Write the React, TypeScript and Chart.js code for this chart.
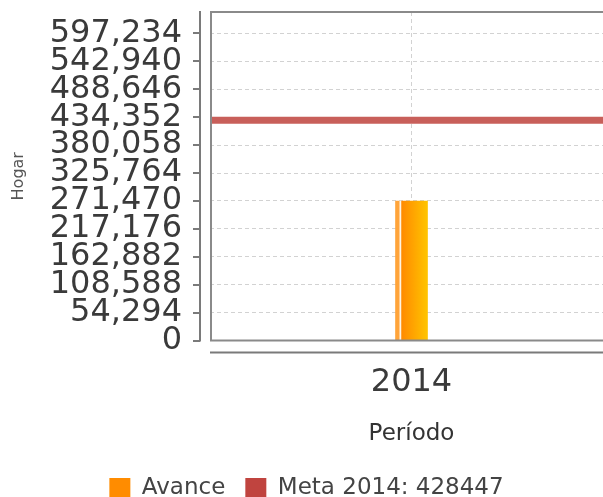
import { useEffect, useRef } from 'react';
import { Chart, registerables } from 'chart.js';

Chart.register(...registerables);

const categories = ['2014'];
const avanceValues = [271200];
const avanceLabel = 'Avance';
const metaLabel = 'Meta 2014: 428447';
const metaValue = 428447;
const yTickValues = [0, 54294, 108588, 162882, 217176, 271470, 325764, 380058, 434352, 488646, 542940, 597234];
const yMax = 639000;

const W = 621;
const H = 510;
const FONT = 'DejaVu Sans';

export default function App() {
  const ref = useRef<HTMLCanvasElement>(null);

  useEffect(() => {
    const canvas = ref.current;
    if (!canvas) return;

    const framePlugin = {
      id: 'frameAxes',
      afterDraw(chart: any) {
        const { ctx, chartArea } = chart;
        const ys = chart.scales.y;
        ctx.save();
        // plot frame
        ctx.strokeStyle = '#8a8a8a';
        ctx.lineWidth = 2;
        ctx.strokeRect(chartArea.left + 1, chartArea.top, chartArea.right - chartArea.left, chartArea.bottom - chartArea.top);
        // detached y axis line
        ctx.strokeStyle = '#7a7a7a';
        ctx.beginPath();
        ctx.moveTo(chartArea.left - 10, chartArea.top - 1);
        ctx.lineTo(chartArea.left - 10, chartArea.bottom + 1);
        ctx.stroke();
        ys.ticks.forEach((t: any) => {
          const y = Math.round(ys.getPixelForValue(t.value));
          ctx.beginPath();
          ctx.moveTo(chartArea.left - 17, y);
          ctx.lineTo(chartArea.left - 10, y);
          ctx.stroke();
        });
        // detached x axis line
        ctx.beginPath();
        ctx.moveTo(chartArea.left, chartArea.bottom + 12);
        ctx.lineTo(chart.width, chartArea.bottom + 12);
        ctx.stroke();
        ctx.restore();
      },
    };

    const chart = new Chart(canvas, {
      type: 'bar',
      data: {
        labels: categories,
        datasets: [
          {
            type: 'bar',
            label: avanceLabel,
            data: avanceValues,
            barThickness: 32,
            grouped: false,
            backgroundColor: (c: any) => {
              const ch = c.chart;
              const xs = ch.scales && ch.scales.x;
              if (!xs || !ch.chartArea) return '#ff9900';
              const cx = xs.getPixelForValue(c.dataIndex);
              const g = ch.ctx.createLinearGradient(cx - 16, 0, cx + 16, 0);
              g.addColorStop(0, '#ffa43a');
              g.addColorStop(0.12, '#ffa43a');
              g.addColorStop(0.13, '#fff4e4');
              g.addColorStop(0.18, '#fff4e4');
              g.addColorStop(0.19, '#ff8a00');
              g.addColorStop(1, '#ffc400');
              return g;
            },
            borderWidth: 0,
          } as any,
          {
            type: 'line',
            label: metaLabel,
            xAxisID: 'x2',
            data: [
              { x: 0, y: metaValue },
              { x: 1, y: metaValue },
            ],
            borderColor: '#c85f5a',
            borderWidth: 7,
            pointRadius: 0,
            fill: false,
          } as any,
        ],
      },
      options: {
        responsive: false,
        animation: false,
        devicePixelRatio: 1,
        layout: { padding: { top: 12, right: 8, left: 0, bottom: 0 } },
        plugins: {
          tooltip: { enabled: false },
          legend: {
            position: 'bottom',
            labels: {
              boxWidth: 21,
              boxHeight: 21,
              padding: 20,
              color: '#444',
              font: { family: FONT, size: 23 },
              generateLabels: () => [
                { text: avanceLabel, fillStyle: '#ff8c00', strokeStyle: '#ff8c00', lineWidth: 0, fontColor: '#444', hidden: false, datasetIndex: 0 },
                { text: metaLabel, fillStyle: '#c0443f', strokeStyle: '#c0443f', lineWidth: 0, fontColor: '#444', hidden: false, datasetIndex: 1 },
              ] as any,
            },
          },
        },
        scales: {
          x: {
            type: 'category',
            offset: true,
            grid: { offset: false, color: '#d2d2d2', drawTicks: false, lineWidth: 1 },
            border: { display: false, dash: [4, 3] },
            ticks: { color: '#3a3a3a', font: { family: FONT, size: 32 }, padding: 23, maxRotation: 0 },
            title: { display: true, text: 'Período', color: '#333', font: { family: FONT, size: 23 }, padding: { top: 0, bottom: 9 } },
            afterFit: (s: any) => {
              s.height = 116.5;
              s.paddingLeft = 0;
              s.paddingRight = 0;
            },
          } as any,
          x2: {
            type: 'linear',
            display: false,
            offset: false,
            min: 0,
            max: 1,
          } as any,
          y: {
            type: 'linear',
            min: 0,
            max: yMax,
            afterBuildTicks: (s: any) => {
              s.ticks = yTickValues.map((v) => ({ value: v }));
            },
            grid: { color: '#d2d2d2', drawTicks: false, lineWidth: 1 },
            border: { display: false, dash: [4, 3] },
            ticks: {
              autoSkip: false,
              color: '#3a3a3a',
              font: { family: FONT, size: 32 },
              padding: 28,
              callback: (v: any) => Number(v).toLocaleString('en-US'),
            },
            title: { display: true, text: 'Hogar', color: '#555', font: { family: FONT, size: 16 }, padding: { top: 9, bottom: 0 } },
            afterFit: (s: any) => {
              s.width = 210;
              s.paddingTop = 0;
              s.paddingBottom = 0;
            },
          } as any,
        },
      },
      plugins: [framePlugin],
    });

    return () => chart.destroy();
  }, []);

  return (
    <div style={{ position: 'fixed', left: 0, top: 0, width: 603, height: 497, overflow: 'hidden', background: '#fff' }}>
      <canvas ref={ref} width={W} height={H} style={{ display: 'block', width: W, height: H }} />
    </div>
  );
}
